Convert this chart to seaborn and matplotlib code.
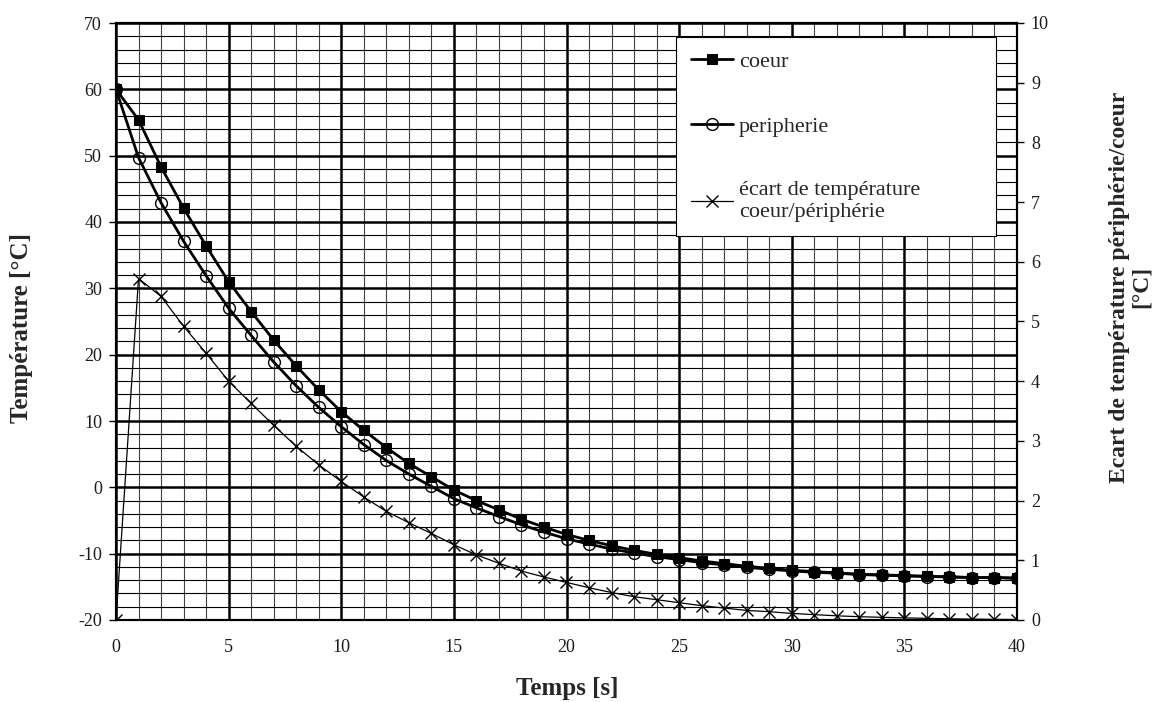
import matplotlib
matplotlib.use("Agg")
import matplotlib.pyplot as plt
import seaborn as sns

# Données
temps = list(range(0, 41))
coeur = [60, 55.4, 48.3, 42.1, 36.4, 31.0, 26.5, 22.2, 18.3, 14.7, 11.4,
         8.6, 6.0, 3.6, 1.6, -0.4, -2.0, -3.4, -4.8, -6.0, -7.1,
         -8.0, -8.8, -9.5, -10.1, -10.6, -11.1, -11.5, -11.9, -12.2, -12.5,
         -12.7, -12.9, -13.1, -13.2, -13.3, -13.4, -13.5, -13.6, -13.6, -13.7]
peripherie = [60, 49.7, 42.9, 37.1, 31.9, 27.0, 22.9, 18.9, 15.3, 12.05, 9.15,
              6.45, 4.05, 2.0, 0.15, -1.7, -3.1, -4.4, -5.65, -6.75, -7.75,
              -8.55, -9.3, -9.9, -10.45, -10.9, -11.35, -11.7, -12.05, -12.35, -12.6,
              -12.8, -12.95, -13.15, -13.25, -13.35, -13.45, -13.5, -13.6, -13.6, -13.7]
ecart = [0, 5.72, 5.42, 4.92, 4.47, 4.0, 3.63, 3.26, 2.91, 2.6, 2.32,
         2.06, 1.82, 1.63, 1.45, 1.26, 1.09, 0.95, 0.82, 0.72, 0.63,
         0.54, 0.46, 0.39, 0.34, 0.29, 0.24, 0.2, 0.16, 0.14, 0.11,
         0.09, 0.07, 0.055, 0.045, 0.035, 0.028, 0.02, 0.015, 0.01, 0.008]

xticks = list(range(0, 41, 5))
yticks_gauche = list(range(-20, 71, 10))
yticks_droite = list(range(0, 11))

sns.set_theme(style="white")
plt.rcParams['font.family'] = ['Liberation Serif', 'DejaVu Serif']
plt.rcParams['axes.unicode_minus'] = False

fig = plt.figure(figsize=(11.68, 7.02), dpi=100)
ax = fig.add_axes([116 / 1168, 82 / 702, 901 / 1168, 597 / 702])
ax2 = ax.twinx()

# --- Courbes coeur / peripherie (axe gauche) ---
sns.lineplot(x=temps, y=coeur, ax=ax, color='black', linewidth=2.0,
             marker='s', markersize=7, markeredgecolor='black',
             markerfacecolor='black', label='coeur')
sns.lineplot(x=temps, y=peripherie, ax=ax, color='black', linewidth=2.0,
             marker='o', markersize=8.5, markeredgecolor='black',
             markerfacecolor='none', markeredgewidth=1.0, label='peripherie')

# --- Ecart (axe droit) ---
sns.lineplot(x=temps, y=ecart, ax=ax2, color='black', linewidth=0.9,
             marker='x', markersize=8.5, markeredgecolor='black',
             markeredgewidth=1.0, label='écart de température\ncoeur/périphérie')

for a in (ax, ax2):
    if a.get_legend() is not None:
        a.get_legend().remove()

# Axes et grille
ax.set_xlim(0, 40)
ax.set_ylim(-20, 70)
ax2.set_ylim(0, 10)
ax.set_xticks(xticks)
ax.set_xticks(range(0, 41), minor=True)
ax.set_yticks(yticks_gauche)
ax.set_yticks(range(-20, 71, 2), minor=True)
ax2.set_yticks(yticks_droite)

ax.set_axisbelow(True)
ax.xaxis.grid(True, which='major', color='black', linewidth=1.8)
ax.yaxis.grid(True, which='major', color='black', linewidth=1.8)
ax.xaxis.grid(True, which='minor', color='#444444', linewidth=0.8)
ax.yaxis.grid(True, which='minor', color='black', linewidth=0.8)

ax.tick_params(axis='both', which='major', direction='out', length=5, width=1,
               color='black', labelsize=13, labelcolor='#1a1a1a')
ax.tick_params(axis='x', which='major', pad=9)
ax.tick_params(axis='y', which='major', pad=5)
ax.tick_params(axis='both', which='minor', length=0)
ax2.tick_params(axis='y', which='major', direction='out', length=5, width=1,
                color='black', labelsize=13, labelcolor='#1a1a1a', pad=5)

for a in (ax, ax2):
    for sp in a.spines.values():
        sp.set_color('black')
        sp.set_linewidth(1.5)

ax.set_xlabel('')
ax.set_ylabel('')
ax2.set_ylabel('')

fig.text(567 / 1168, 1 - 689 / 702, 'Temps [s]', fontsize=18, fontweight='bold',
         ha='center', va='center')
fig.text(22 / 1168, 1 - 328 / 702, 'Température [°C]', fontsize=18,
         fontweight='bold', rotation=90, ha='center', va='center')
fig.text(1130 / 1168, 1 - 287 / 702,
         'Ecart de température périphérie/coeur\n[°C]', fontsize=17,
         fontweight='bold', rotation=90, ha='center', va='center',
         multialignment='center', linespacing=1.05)

# Légende commune
h1, l1 = ax.get_legend_handles_labels()
h2, l2 = ax2.get_legend_handles_labels()
leg = ax2.legend(h1 + h2, l1 + l2, loc='upper left',
                 bbox_to_anchor=(0.622, 0.640, 0.355, 0.337), mode='expand',
                 borderaxespad=0, fontsize=16, frameon=True, fancybox=False,
                 edgecolor='black', framealpha=1, facecolor='white',
                 handlelength=1.9, handletextpad=0.25, borderpad=0.65,
                 labelspacing=2.0)
leg.get_frame().set_linewidth(0.8)
leg.set_zorder(10)

fig.savefig('out.png', dpi=100)
